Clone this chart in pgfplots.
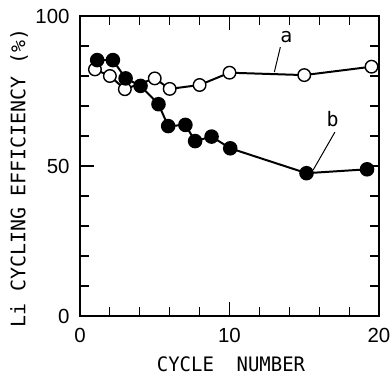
\documentclass[border=0pt]{standalone}
\usepackage{fontspec}
\usepackage{pgfplots}
\pgfplotsset{compat=1.18}
\newfontfamily\monofont{DejaVu Sans Mono}
\newfontfamily\monofontx[FakeStretch=0.95]{DejaVu Sans Mono}
\newfontfamily\tickfont{Liberation Sans}
\begin{document}
\begin{tikzpicture}
\begin{axis}[
  scale only axis, width=299bp, height=300bp,
  xmin=0, xmax=20, ymin=0, ymax=100,
  xtick={0,10,20}, ytick={0,50,100},
  minor xtick={2,4,...,18}, minor ytick={10,20,...,90},
  tick align=inside, major tick length=14bp, minor tick length=9bp,
  tick style={line width=1.2pt, black},
  axis line style={line width=1.4pt},
  ticklabel style={font=\tickfont\fontsize{20.5}{24}\selectfont},
  xticklabel style={yshift=-9bp},
  yticklabel style={xshift=-7bp},
  /pgf/number format/assume math mode=true,
  clip=false,
]
\coordinate (SW) at (rel axis cs:0,0);
\coordinate (NE) at (rel axis cs:1,1);
\addplot[black, line width=2pt, mark=*, mark size=6.3pt, mark options={fill=white, line width=1.4pt}] coordinates {
(1,82.2) (2,80) (3,75.6) (5,79.2) (6,75.7) (8,77) (10,81.1) (15,80.3) (19.5,83.1)
};
\addplot[black, line width=2pt, mark=*, mark size=6.3pt, mark options={fill=black}] coordinates {
(1.15,85.3) (2.2,85.3) (3.05,79.2) (4.05,76.7) (5.25,70.6) (5.9,63.3) (7.05,63.7) (7.7,58.3) (8.8,59.8) (10.05,55.9) (15.15,47.6) (19.2,48.9)
};
\node[font=\monofont\fontsize{20}{24}\selectfont] at (axis cs:13.8,93) {a};
\draw[line width=1pt] (axis cs:13.4,89.6) -- (axis cs:13.0,81.3);
\node[font=\monofont\fontsize{20}{24}\selectfont] at (axis cs:16.9,65.5) {b};
\draw[line width=1pt] (axis cs:17.05,61.3) -- (axis cs:15.6,48.7);
\node[font=\monofontx\fontsize{20}{24}\selectfont, inner sep=0pt] at ([shift={(1.5bp,-48bp)}]rel axis cs:0.5,0) {CYCLE~~NUMBER};
\node[font=\monofont\fontsize{20}{24}\selectfont, rotate=90] at ([shift={(-61bp,0bp)}]rel axis cs:0,0.46) {Li CYCLING EFFICIENCY (\%)};
\end{axis}
\pgfresetboundingbox
\path[use as bounding box] (SW) ++(-80bp,-61bp) rectangle ([shift={(13bp,16bp)}]NE);
\end{tikzpicture}
\end{document}
